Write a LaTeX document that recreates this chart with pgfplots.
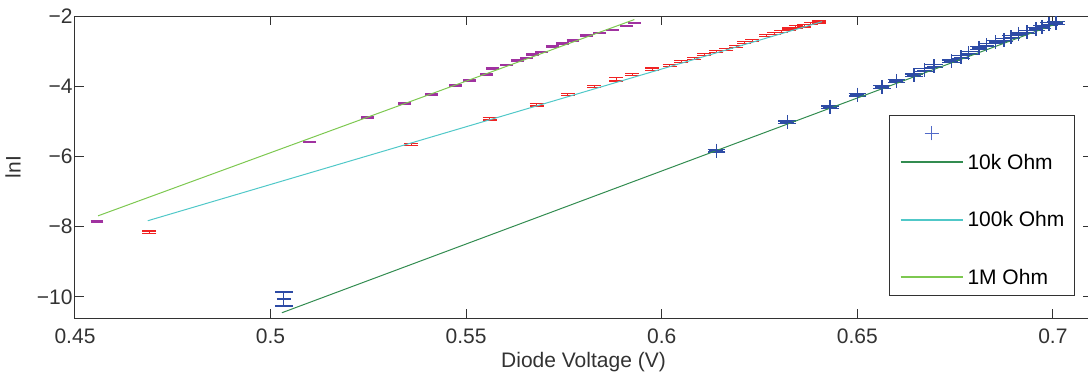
\documentclass[border=0pt]{standalone}
\usepackage{fontspec}
\setmainfont{Liberation Sans}
\usepackage{pgfplots}
\pgfplotsset{compat=1.18}
\usepackage{pgfplotstable}

\definecolor{cpurp}{RGB}{160,50,160}
\definecolor{cred}{RGB}{240,35,35}
\definecolor{cblue}{RGB}{45,75,165}
\definecolor{clblue}{RGB}{80,105,200}
\definecolor{cten}{RGB}{50,140,80}
\definecolor{chund}{RGB}{80,200,200}
\definecolor{cmeg}{RGB}{125,200,80}
\definecolor{caxis}{RGB}{50,50,50}

\pgfplotstableread{
V lnI e
0.4556 -7.85 0.01
0.5100 -5.59 0.01
0.5248 -4.89 0.01
0.5343 -4.49 0.01
0.5412 -4.23 0.01
0.5473 -3.98 0.01
0.5509 -3.83 0.01
0.5552 -3.66 0.01
0.5567 -3.49 0.01
0.5603 -3.40 0.01
0.5631 -3.26 0.01
0.5654 -3.19 0.01
0.5670 -3.10 0.01
0.5693 -3.02 0.01
0.5720 -2.87 0.01
0.5747 -2.78 0.01
0.5773 -2.69 0.01
0.5807 -2.56 0.01
0.5841 -2.49 0.01
0.5874 -2.40 0.01
0.5909 -2.29 0.01
0.5930 -2.20 0.01
}\megdata

\pgfplotstableread{
V lnI e
0.4690 -8.16 0.04
0.5360 -5.66 0.03
0.5560 -4.93 0.03
0.5680 -4.53 0.03
0.5760 -4.24 0.03
0.5828 -4.00 0.03
0.5884 -3.80 0.05
0.5925 -3.66 0.03
0.5976 -3.51 0.03
0.6020 -3.40 0.03
0.6050 -3.30 0.03
0.6083 -3.21 0.03
0.6109 -3.09 0.03
0.6140 -3.02 0.03
0.6165 -2.95 0.03
0.6190 -2.86 0.03
0.6211 -2.75 0.03
0.6232 -2.70 0.03
0.6267 -2.55 0.03
0.6288 -2.49 0.03
0.6305 -2.45 0.03
0.6326 -2.37 0.03
0.6343 -2.31 0.03
0.6364 -2.28 0.03
0.6381 -2.21 0.03
0.6402 -2.17 0.03
}\hunddata

\pgfplotstableread{
V lnI e
0.5034 -10.06 0.20
0.6140 -5.83 0.04
0.6321 -5.03 0.04
0.6430 -4.60 0.04
0.6500 -4.24 0.04
0.6563 -4.02 0.04
0.6600 -3.85 0.04
0.6645 -3.69 0.04
0.6671 -3.54 0.04
0.6696 -3.43 0.04
0.6740 -3.29 0.04
0.6765 -3.17 0.04
0.6785 -3.06 0.04
0.6811 -2.91 0.04
0.6831 -2.83 0.04
0.6854 -2.74 0.04
0.6875 -2.69 0.04
0.6893 -2.60 0.04
0.6913 -2.51 0.04
0.6934 -2.46 0.04
0.6957 -2.37 0.04
0.6972 -2.31 0.04
0.6990 -2.23 0.04
0.7008 -2.20 0.04
}\tendata

\begin{document}
\fontsize{10.5}{12.6}\selectfont
\begin{tikzpicture}[font=\fontsize{10.5}{12.6}\selectfont]
\begin{axis}[
  scale only axis,
  width=508.5pt, height=151pt,
  xmin=0.45, xmax=0.71, ymin=-10.6, ymax=-2,
  axis line style={caxis, line width=0.5pt},
  tick style={caxis, line width=0.5pt},
  tick align=inside, tick pos=both,
  major tick length=4.5pt,
  xtick={0.45,0.5,0.55,0.6,0.65,0.7},
  xticklabels={0.45,0.5,0.55,0.6,0.65,0.7},
  ytick={-10,-8,-6,-4,-2},
  yticklabels={−10,−8,−6,−4,−2},
  xticklabel style={inner sep=0pt, anchor=north, yshift=-5pt, text=caxis},
  yticklabel style={inner sep=0pt, anchor=east, xshift=-1pt, text=caxis},
  xlabel={Diode Voltage (V)},
  ylabel={lnI},
  every axis x label/.style={at={(axis description cs:0.5,0)}, anchor=base, yshift=-24.5pt, inner sep=0pt, text=caxis},
  every axis y label/.style={at={(axis description cs:0,0.5)}, rotate=90, anchor=south, yshift=27pt, inner sep=0pt, text=caxis},
  legend image code/.code={\draw[mark repeat=2,mark phase=2,#1] plot coordinates {(0pt,0pt)(15.5pt,0pt)(31pt,0pt)};},
  legend cell align=left,
  legend style={at={(0.8004,0.6722)}, anchor=north west, line width=0.5pt,
    inner xsep=5pt, inner ysep=3.7pt, row sep=4pt, column sep=2pt,
    nodes={inner sep=0pt}, font=\fontsize{10.5}{12.6}\selectfont,
    draw=caxis},
]
% data with error bars
\addplot[draw=none, mark=none, forget plot,
  error bars/.cd, y dir=both, y explicit, error mark=|,
  error bar style={draw=cpurp, line width=0.5pt},
  error mark options={draw=cpurp, mark size=3.2pt, line width=0.9pt}]
  table[x=V, y=lnI, y error=e] {\megdata};
\addplot[draw=none, mark=none, forget plot,
  error bars/.cd, y dir=both, y explicit, error mark=|,
  error bar style={draw=cred, line width=0.5pt},
  error mark options={draw=cred, mark size=3.5pt, line width=0.6pt}]
  table[x=V, y=lnI, y error=e] {\hunddata};
\addplot[cblue, only marks, mark=+, mark size=3.5pt, line width=0.6pt, forget plot,
  error bars/.cd, y dir=both, y explicit, error mark=|,
  error bar style={draw=cblue, line width=0.5pt},
  error mark options={draw=cblue, mark size=4.4pt, line width=0.6pt}]
  table[x=V, y=lnI, y error=e] {\tendata};
% fit lines
\addplot[cten, line width=0.5pt, forget plot] coordinates {(0.5029,-10.45) (0.7023,-2.16)};
\addplot[chund, line width=0.5pt, forget plot] coordinates {(0.4686,-7.83) (0.6410,-2.16)};
\addplot[cmeg, line width=0.5pt, forget plot] coordinates {(0.4559,-7.69) (0.5930,-2.10)};
% legend
\addlegendimage{legend image code/.code={\draw[draw=clblue, line width=0.6pt] (12pt,0pt) -- (19pt,0pt) (15.5pt,-3.5pt) -- (15.5pt,3.5pt);}}
\addlegendentry{\strut}
\addlegendimage{cten, line width=1pt}
\addlegendentry{\strut 10k Ohm}
\addlegendimage{empty legend}
\addlegendentry{\strut}
\addlegendimage{chund, line width=1pt}
\addlegendentry{\strut 100k Ohm}
\addlegendimage{empty legend}
\addlegendentry{\strut}
\addlegendimage{cmeg, line width=1pt}
\addlegendentry{\strut 1M Ohm}
\end{axis}
\pgfresetboundingbox
\path[use as bounding box] (-37.5pt,-27pt) rectangle (506.5pt,159pt);
\end{tikzpicture}
\end{document}
